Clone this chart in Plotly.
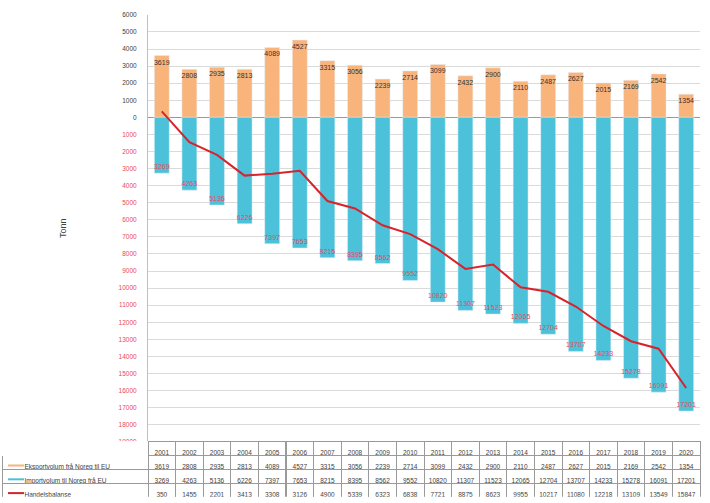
import plotly.graph_objects as go

years = [str(y) for y in range(2001, 2021)]
export = [3619, 2808, 2935, 2813, 4089, 4527, 3315, 3056, 2239, 2714,
          3099, 2432, 2900, 2110, 2487, 2627, 2015, 2169, 2542, 1354]
imports = [3269, 4263, 5136, 6226, 7397, 7653, 8215, 8395, 8562, 9552,
           10820, 11307, 11523, 12065, 12704, 13707, 14233, 15278, 16091, 17201]
balance = [350, -1455, -2201, -3413, -3308, -3126, -4900, -5339, -6323, -6838,
           -7721, -8875, -8623, -9955, -10217, -11080, -12218, -13109, -13549, -15847]
series_names = ["Eksportvolum frå Noreg til EU", "Importvolum til Noreg frå EU", "Handelsbalanse"]
y_ticks = list(range(-19000, 7000, 1000))

ORANGE = "#F9B47B"
BLUE = "#4BC2DA"
RED = "#D8232A"
LABEL_RED = "#E8485A"
FONT = "Liberation Sans"

W, H = 710, 503
px_x = lambda p: p / W
px_y = lambda p: 1 - p / H

PLOT_TOP, PLOT_BOTTOM = 11, 444
ROW_H = 14

fig = go.Figure()
fig.add_bar(x=years, y=export, marker_color=ORANGE, width=0.54,
            text=[str(v) for v in export], textposition="inside", insidetextanchor="end",
            constraintext="none", textangle=0,
            textfont=dict(size=7, color="#333333", family=FONT), name=series_names[0])
fig.add_bar(x=years, y=[-v for v in imports], marker_color=BLUE, width=0.54,
            text=[str(v) for v in imports], textposition="inside", insidetextanchor="end",
            constraintext="none", textangle=0,
            textfont=dict(size=7, color=LABEL_RED, family=FONT), name=series_names[1])
fig.add_scatter(x=years, y=balance, mode="lines", line=dict(color=RED, width=2),
                name=series_names[2])

tick_text = [str(v) if v >= 0 else f"<span style='color:{LABEL_RED}'>{abs(v)}</span>" for v in y_ticks]

fig.update_layout(
    width=W, height=H, margin=dict(l=0, r=0, t=0, b=0),
    paper_bgcolor="white", plot_bgcolor="white", showlegend=False,
    barmode="overlay", font=dict(family=FONT, size=7, color="#404040"),
    xaxis=dict(domain=[px_x(148), px_x(700)], type="category", range=[-0.5, 19.5],
               showticklabels=False, showgrid=False, zeroline=False,
               showline=False, ticks=""),
    yaxis=dict(domain=[px_y(PLOT_BOTTOM), px_y(PLOT_TOP)], range=[-19000, 6000],
               tickvals=y_ticks, ticktext=tick_text, tickfont=dict(size=6.5, color="#404040"),
               ticklabelstandoff=9,
               showgrid=True, gridcolor="#DADADA", gridwidth=1,
               zeroline=True, zerolinecolor="#9a9a9a", zerolinewidth=1,
               showline=True, linecolor="#BFBFBF", ticks="",
               title=dict(text="Tonn", font=dict(size=9, color="#404040"), standoff=50)),
)

key_colors = [ORANGE, BLUE, RED]
first_col = ["        " + n for n in series_names]
cols = [first_col] + [[str(e), str(i), str(abs(b))] for e, i, b in zip(export, imports, balance)]

table_bottom = PLOT_BOTTOM + ROW_H * 4
fig.add_trace(go.Table(
    domain=dict(x=[px_x(2), px_x(700)], y=[px_y(table_bottom), px_y(PLOT_BOTTOM)]),
    columnwidth=[146] + [27.6] * 20,
    header=dict(values=[""] + years, height=ROW_H, align="center",
                fill_color="white",
                line=dict(color=["white"] + ["#9a9a9a"] * 20, width=1),
                font=dict(size=6.5, color="#404040", family=FONT)),
    cells=dict(values=cols, height=ROW_H, align=["left"] + ["center"] * 20,
               fill_color="white", line=dict(color="#9a9a9a", width=1),
               font=dict(size=6.5, color="#404040", family=FONT)),
))

# legend keys inside the table's first column
for r, c in enumerate(key_colors):
    yc = PLOT_BOTTOM + ROW_H * (r + 1) + ROW_H / 2 + 3
    fig.add_shape(type="line", xref="paper", yref="paper",
                  x0=px_x(8), x1=px_x(24), y0=px_y(yc), y1=px_y(yc),
                  line=dict(color=c, width=2))

fig.write_html("out.html", config={"displayModeBar": False},
               post_script="document.body.style.margin='0';")
